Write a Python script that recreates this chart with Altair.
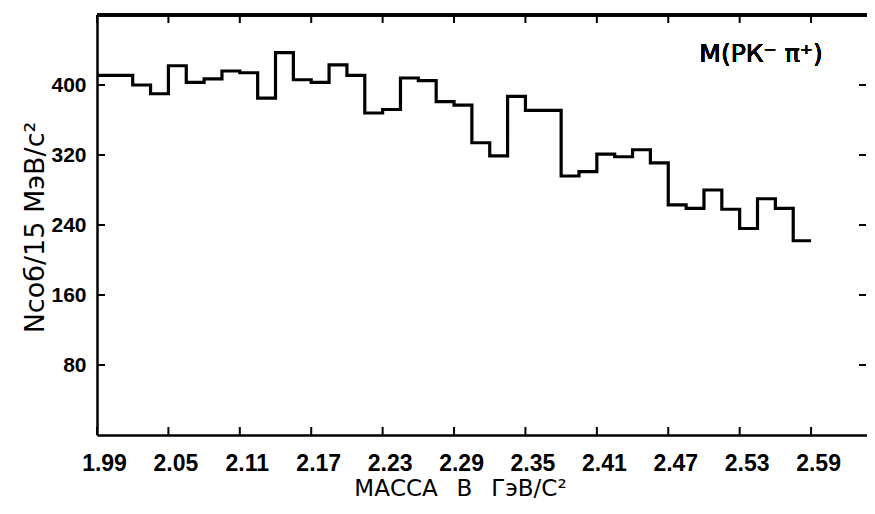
import altair as alt
import pandas as pd

# ---- data ----
BIN_START = 1.99      # GeV/c^2
BIN_WIDTH = 0.015     # 15 MeV/c^2
counts = [411, 411, 400, 390, 422, 403, 407, 416, 414, 385,
          437, 406, 403, 423, 411, 368, 372, 408, 405, 381,
          377, 334, 319, 387, 371, 371, 296, 301, 321, 318,
          326, 311, 263, 259, 280, 258, 236, 270, 259, 222]
x_ticks = [1.99, 2.05, 2.11, 2.17, 2.23, 2.29, 2.35, 2.41, 2.47, 2.53, 2.59]
y_ticks = [80, 160, 240, 320, 400]
x_title = "МАССА\u2002\u00a0В\u2002\u00a0ГэВ/С²"
y_title = "Nсоб/15 МэВ/с²"
annotation = "М(РК⁻\u00a0π⁺)"

# ---- tables built from the arrays ----
edges = [round(BIN_START + i * BIN_WIDTH, 3) for i in range(len(counts) + 1)]
hist = pd.DataFrame({"mass": edges, "n": counts + [counts[-1]]})
xt = pd.DataFrame({"mass": x_ticks})
yt = pd.DataFrame({"n": y_ticks})

W, H = 770, 420
XDOM = [1.99, 2.637]
YDOM = [0, 480]
LABEL_FONT = "Liberation Sans, Arial, DejaVu Sans"
TITLE_FONT = "DejaVu Sans"

xs = alt.Scale(domain=XDOM, nice=False, zero=False)
ys = alt.Scale(domain=YDOM, nice=False)

x_axis = alt.Axis(
    values=x_ticks, format=".2f", grid=False, ticks=False, tickSize=0,
    domain=True, domainColor="black", domainWidth=2.5,
    labelFont=LABEL_FONT, labelFontSize=23, labelFontWeight="bold",
    labelColor="black", labelPadding=17, labelOffset=7, labelFlush=False,
    labelOverlap=False,
    title=x_title, titleFont=TITLE_FONT, titleFontSize=23,
    titleFontWeight="normal", titleColor="black",
    titleX=363, titleY=53, titleAlign="center", titleBaseline="middle",
)
y_axis = alt.Axis(
    values=y_ticks, grid=False, ticks=False, tickSize=0,
    domain=True, domainColor="black", domainWidth=2.5,
    labelFont=LABEL_FONT, labelFontSize=21, labelFontWeight="bold",
    labelColor="black", labelPadding=11, labelFlush=False,
    title=y_title, titleFont=TITLE_FONT, titleFontSize=27,
    titleFontWeight="normal", titleColor="black",
    titleX=-62, titleY=212, titleAngle=270, titleAlign="center",
    titleBaseline="middle",
)

line = alt.Chart(hist).mark_line(
    interpolate="step-after", color="black", strokeWidth=3.2
).encode(
    x=alt.X("mass:Q", scale=xs, axis=x_axis),
    y=alt.Y("n:Q", scale=ys, axis=y_axis),
)

top_line = alt.Chart(xt).mark_rule(color="black", strokeWidth=2.5).encode(
    x=alt.value(0), x2=alt.value(W), y=alt.value(0)
)

bottom_ticks = alt.Chart(xt).mark_rule(color="black", strokeWidth=2).encode(
    x=alt.X("mass:Q", scale=xs, axis=x_axis), y=alt.value(H), y2=alt.value(H - 8)
)
top_ticks = alt.Chart(xt).mark_rule(color="black", strokeWidth=2).encode(
    x=alt.X("mass:Q", scale=xs, axis=x_axis), y=alt.value(0), y2=alt.value(8)
)
left_ticks = alt.Chart(yt).mark_rule(color="black", strokeWidth=2).encode(
    y=alt.Y("n:Q", scale=ys, axis=y_axis), x=alt.value(0), x2=alt.value(8)
)
right_ticks = alt.Chart(yt).mark_rule(color="black", strokeWidth=2).encode(
    y=alt.Y("n:Q", scale=ys, axis=y_axis), x=alt.value(W - 1), x2=alt.value(W - 8)
)

label = alt.Chart(xt).mark_text(
    text=annotation, font=TITLE_FONT, fontSize=25, fontWeight="normal",
    color="black", align="center", baseline="middle"
).encode(x=alt.value(664), y=alt.value(39))

chart = alt.layer(
    line, top_line, bottom_ticks, top_ticks, left_ticks, right_ticks, label
).properties(
    width=W, height=H,
    autosize=alt.AutoSizeParams(type="none"),
    padding={"left": 89, "top": 7, "right": 0, "bottom": 66},
    background="white",
).configure_view(stroke=None)

chart.save("out.html", embed_options={"renderer": "svg", "actions": False})
